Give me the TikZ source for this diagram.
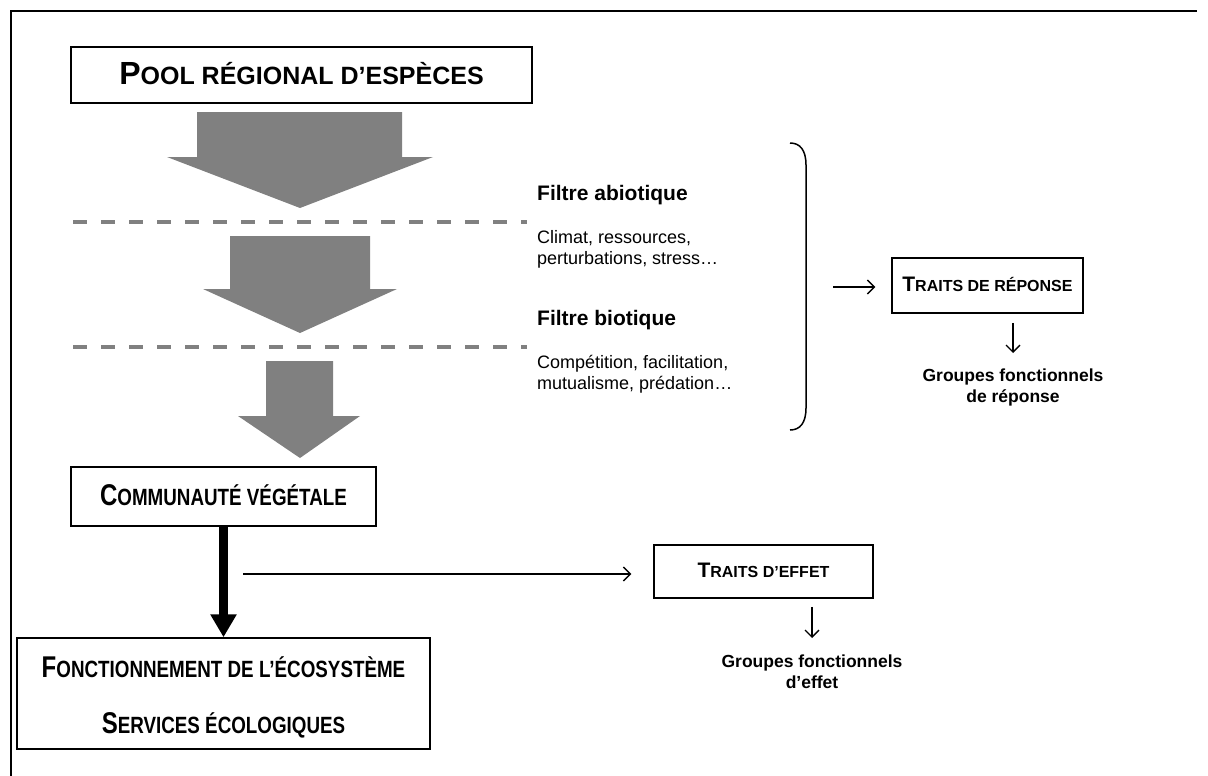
\documentclass[tikz,border=0pt]{standalone}
\usepackage{fontspec}
\setmainfont{Liberation Sans}
\newfontfamily\narrowf[FakeStretch=0.8]{Liberation Sans}
\usetikzlibrary{arrows.meta}
\definecolor{arrgray}{HTML}{808080}
\newcommand{\SmCap}[4]{{\fontsize{#1}{#1}\selectfont #3}{\fontsize{#2}{#2}\selectfont #4}}
\tikzset{
 box/.style={draw=black,line width=1.5pt,inner sep=0pt,font=\bfseries},
 grayarrow/.style={fill=arrgray,draw=none},
 filterline/.style={draw=arrgray,line width=4pt,dash pattern=on 14pt off 14pt},
 thinarr/.style={line width=1.3pt,-{Straight Barb[length=7pt,width=14pt]}},
 thickarr/.style={line width=9pt,-{Triangle[length=23pt,width=25pt]}},
 heading/.style={font=\bfseries\fontsize{21}{25}\selectfont,anchor=base west,inner sep=0pt},
 desc/.style={font=\fontsize{18}{21.5}\selectfont,anchor=north west,align=left,inner sep=0pt},
 groupe/.style={font=\bfseries\fontsize{17.5}{21}\selectfont,align=center,inner sep=0pt,anchor=north},
}
\begin{document}
\begin{tikzpicture}[x=1pt,y=-1pt]
\useasboundingbox (0,0) rectangle (1208,776);
% frame
\draw[line width=2pt] (11,776) -- (11,11) -- (1197,11);
% boxes
\node[box, minimum width=461pt, minimum height=56pt, text height=19pt, text depth=0pt] (pool) at (301.5,75) {\SmCap{32}{25}{P}{OOL RÉGIONAL D’ESPÈCES}};
\node[box, font=\narrowf\bfseries, minimum width=305pt, minimum height=59pt, text height=17pt, text depth=0pt] (comm) at (223.5,496.5) {\SmCap{30}{23.5}{C}{OMMUNAUTÉ VÉGÉTALE}};
\node[box, minimum width=191pt, minimum height=55pt, text height=12pt, text depth=0pt] (tr) at (987.5,285.5) {\SmCap{21}{16}{T}{RAITS DE RÉPONSE}};
\node[box, minimum width=219pt, minimum height=53pt, text height=12pt, text depth=0pt] (te) at (763.5,571.5) {\SmCap{21}{16}{T}{RAITS D’EFFET}};
\node[box, minimum width=413pt, minimum height=111pt] (fonct) at (223.5,693.5) {};
\node[font=\narrowf\bfseries, anchor=base, inner sep=0pt] (f1) at (223.5,677) {\SmCap{30}{23.5}{F}{ONCTIONNEMENT DE L’ÉCOSYSTÈME}};
\node[font=\narrowf\bfseries, anchor=base, inner sep=0pt] (f2) at (223.5,733) {\SmCap{30}{23.5}{S}{ERVICES ÉCOLOGIQUES}};
% gray filter arrows
\fill[grayarrow] (197,112) -- (402,112) -- (402,157) -- (433,157) -- (300,208) -- (167,157) -- (197,157) -- cycle;
\fill[grayarrow] (230,236) -- (370,236) -- (370,289) -- (397,289) -- (300,333) -- (203,289) -- (230,289) -- cycle;
\fill[grayarrow] (266,361) -- (333,361) -- (333,416) -- (360,416) -- (300,458) -- (238,416) -- (266,416) -- cycle;
% dashed filter lines
\draw[filterline] (73,222) -- (527,222);
\draw[filterline] (73,347) -- (527,347);
% filter texts
\node[heading] (fa) at (537,200) {Filtre abiotique};
\node[desc] (fad) at (537,230) {Climat, ressources,\\perturbations, stress…};
\node[heading] (fb) at (537,325) {Filtre biotique};
\node[desc] (fbd) at (537,355) {Compétition, facilitation,\\mutualisme, prédation…};
% bracket
\draw[line width=1.5pt] (790,143) .. controls (800,143) and (806,150) .. (806,165) -- (806,408) .. controls (806,423) and (800,430) .. (790,430);
% groups
\node[groupe] (grr) at (1013,369) {Groupes fonctionnels\\de réponse};
\node[groupe] (gre) at (812,655) {Groupes fonctionnels\\d’effet};
% connectors
\coordinate (bstart) at (833,287);
\draw[thinarr, shorten >=16pt] (bstart) -- (bstart -| tr.west);
\draw[thinarr, shorten <=9pt, shorten >=16pt] (tr.south -| grr.north) -- (grr.north);
\draw[thickarr] (comm.south) -- (fonct.north);
\coordinate (tstart) at (243,574);
\draw[thinarr, shorten >=22pt] (tstart) -- (tstart -| te.west);
\draw[thinarr, shorten <=8pt, shorten >=17pt] (te.south -| gre.north) -- (gre.north);
\end{tikzpicture}
\end{document}
